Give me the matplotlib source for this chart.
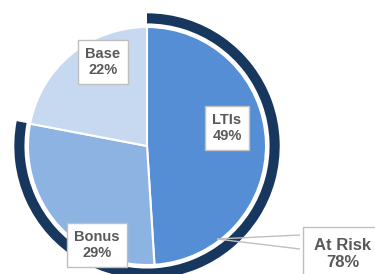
import matplotlib
matplotlib.use("Agg")
import matplotlib.pyplot as plt

# Data
categories = ["LTIs", "Bonus", "Base"]
values = [49, 29, 22]
ring_label = "At Risk"
ring_values = [78, 22]

slice_colors = ["#558ED5", "#8DB3E2", "#C6D9F1"]
ring_color = "#17375E"
text_color = "#595959"
box_edge = "#BFBFBF"

plt.rcParams["font.family"] = ["Liberation Sans", "DejaVu Sans"]

W, H = 375, 274
fig = plt.figure(figsize=(W / 100, H / 100), dpi=100)
ax = fig.add_axes([0, 0, 1, 1])

cx, cy, R = 147, 146, 119  # pixel geometry of pie

ax.pie(values, radius=1.0, startangle=90, counterclock=False,
       colors=slice_colors,
       wedgeprops=dict(edgecolor="white", linewidth=1.5))
ax.pie(ring_values, radius=1.115, startangle=90, counterclock=False,
       colors=[ring_color, "none"],
       wedgeprops=dict(width=0.085, edgecolor="none", linewidth=0))

ax.set_aspect("auto")
ax.set_xlim(-cx / R, (W - cx) / R)
ax.set_ylim(-(H - cy) / R, cy / R)
ax.axis("off")


def px(x, y):
    return (x - cx) / R, (cy - y) / R


label_pos = {"LTIs": (227, 128), "Bonus": (97, 245), "Base": (103, 62)}
for cat, v in zip(categories, values):
    x, y = px(*label_pos[cat])
    ax.text(x, y, f"{cat}\n{v}%", ha="center", va="center",
            fontsize=10.5, fontweight="bold", color=text_color,
            linespacing=1.15,
            bbox=dict(boxstyle="square,pad=0.5", facecolor="white",
                      edgecolor=box_edge, linewidth=1))

# At Risk callout
ax_, ay_ = px(217, 239)
b1 = px(300, 235)
b2 = px(300, 249)
ax.plot([ax_, b1[0]], [ay_, b1[1]], color=box_edge, lw=1, solid_capstyle="butt")
ax.plot([ax_, b2[0]], [ay_, b2[1]], color=box_edge, lw=1, solid_capstyle="butt")
tx, ty = px(343, 254)
ax.text(tx, ty, f"{ring_label}\n{ring_values[0]}%", ha="center", va="center",
        fontsize=12, fontweight="bold", color=text_color, linespacing=1.1,
        bbox=dict(boxstyle="square,pad=0.7", facecolor="white",
                  edgecolor=box_edge, linewidth=1))

fig.savefig("out.png", dpi=100)
